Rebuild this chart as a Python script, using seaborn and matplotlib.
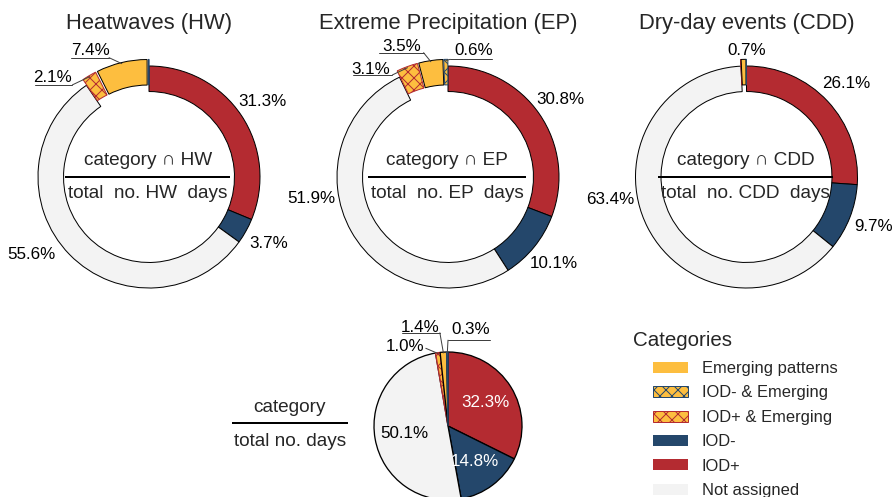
import matplotlib
matplotlib.use("Agg")
import matplotlib.pyplot as plt
from matplotlib.patches import Patch
import numpy as np
import seaborn as sns

# ---------------------------------------------------------------- data
categories = ["IOD+", "IOD-", "Not assigned",
              "IOD+ & Emerging", "Emerging patterns", "IOD- & Emerging"]
hw_pct = [31.3, 3.7, 55.6, 2.1, 7.4, 0.05]
ep_pct = [30.8, 10.1, 51.9, 3.1, 3.5, 0.6]
cdd_pct = [26.1, 9.7, 63.4, 0.05, 0.7, 0.05]
all_pct = [32.3, 14.8, 50.1, 1.0, 1.4, 0.3]

event_titles = ["Heatwaves (HW)", "Extreme Precipitation (EP)", "Dry-day events (CDD)"]
event_codes = ["HW", "EP", "CDD"]
legend_order = ["Emerging patterns", "IOD- & Emerging", "IOD+ & Emerging",
                "IOD-", "IOD+", "Not assigned"]

# ---------------------------------------------------------------- style
sns.set_theme(style="white")
plt.rcParams["font.family"] = ["Liberation Sans", "DejaVu Sans"]
plt.rcParams["hatch.linewidth"] = 1.0

YELLOW, RED, BLUE, GREY = "#FDBE3F", "#B42B31", "#24476B", "#F3F3F3"
palette = sns.color_palette([RED, BLUE, GREY, YELLOW, YELLOW, YELLOW])
fill = dict(zip(categories, palette))
edge = dict(zip(categories, ["black", "black", "black", RED, "black", BLUE]))
hatch = dict(zip(categories, [None, None, None, "xx", None, "xx"]))
emerging = {"IOD+ & Emerging", "Emerging patterns", "IOD- & Emerging"}

FS_TITLE, FS_PCT, FS_FRAC, FS_LEG = 22, 17, 19, 16.5
LEADER = "#404040"

W, H, DPI = 896, 497, 72
fig = plt.figure(figsize=(W / DPI, H / DPI), dpi=DPI)

# full-figure layer in pixel units for free-standing text
canvas = fig.add_axes([0, 0, 1, 1])
canvas.set_xlim(0, W)
canvas.set_ylim(H, 0)
canvas.axis("off")


def pie_axes(cx, cy, radius_px, half_px):
    ax = fig.add_axes([(cx - half_px) / W, (H - cy - half_px) / H,
                       2 * half_px / W, 2 * half_px / H])
    return ax, half_px / radius_px


def draw_pie(ax, lim, pct, ring_width=None, explode_amt=0.0, lw=1.0):
    wp = dict(linewidth=lw)
    if ring_width:
        wp["width"] = ring_width
    wedges, _ = ax.pie(pct, colors=[fill[c] for c in categories],
                       startangle=90, counterclock=False,
                       explode=[explode_amt if c in emerging else 0 for c in categories],
                       wedgeprops=wp)
    for w, c in zip(wedges, categories):
        w.set_edgecolor(edge[c])
        if hatch[c]:
            w.set_hatch(hatch[c])
    ax.set_xlim(-lim, lim)
    ax.set_ylim(-lim, lim)
    ax.set_aspect("equal")
    ax.axis("off")
    return wedges


def wedge_point(w, frac):
    t = np.deg2rad((w.theta1 + w.theta2) / 2)
    cx, cy = w.center
    return cx + frac * w.r * np.cos(t), cy + frac * w.r * np.sin(t)


def label_wedges(ax, wedges, pct, callouts, dist, colors=None, min_pct=0.1):
    for w, c, v in zip(wedges, categories, pct):
        if v < min_pct:
            continue
        txt = f"{v:.1f}%"
        col = colors.get(c, "black") if colors else "black"
        if c in callouts:
            spec = callouts[c]
            ax.text(*spec["text"], txt, ha="center", va="center",
                    fontsize=FS_PCT, color="black")
            if "under" in spec:
                x0, x1, y = spec["under"]
                ax.plot([x0, x1], [y, y], color=LEADER, lw=1.0, clip_on=False)
            if "tail" in spec:
                ex, ey = wedge_point(w, 0.99)
                tx, ty = spec["tail"]
                ax.plot([tx, ex], [ty, ey], color=LEADER, lw=1.0, clip_on=False)
        else:
            x, y = wedge_point(w, dist)
            ax.text(x, y, txt, ha="center", va="center", fontsize=FS_PCT, color=col)


def fraction(ax, x, y_num, y_line, y_den, num, den, pad):
    ax.text(x, y_num, num, ha="center", va="center", fontsize=FS_FRAC)
    d = ax.text(x, y_den, den, ha="center", va="center", fontsize=FS_FRAC)
    fig.canvas.draw()
    bb = d.get_window_extent().transformed(ax.transData.inverted())
    ax.plot([bb.x0 - pad, bb.x1 + pad], [y_line, y_line], color="black",
            lw=2.0, clip_on=False, solid_capstyle="butt")


# ---------------------------------------------------------------- donuts
centres = [(149, 177), (448, 177), (746.5, 177)]
R_DONUT = 111
callouts = [
    {"Not assigned": dict(text=(-1.06, -0.70)),
     "Emerging patterns": dict(text=(-0.53, 1.14), under=(-0.70, -0.36, 1.075),
                               tail=(-0.36, 1.075)),
     "IOD+ & Emerging": dict(text=(-0.87, 0.90), under=(-1.03, -0.69, 0.83),
                             tail=(-0.69, 0.83))},
    {"Not assigned": dict(text=(-1.23, -0.19)),
     "Emerging patterns": dict(text=(-0.42, 1.18), under=(-0.62, -0.22, 1.12),
                               tail=(-0.22, 1.12)),
     "IOD+ & Emerging": dict(text=(-0.70, 0.97), under=(-0.86, -0.50, 0.92),
                             tail=(-0.50, 0.92)),
     "IOD- & Emerging": dict(text=(0.23, 1.14), under=(0.02, 0.40, 1.06),
                             tail=(0.02, 1.06))},
    {"Not assigned": dict(text=(-1.23, -0.20)),
     "Emerging patterns": dict(text=(0.0, 1.14))},
]

for (cx, cy), pct, title, code, co in zip(centres, [hw_pct, ep_pct, cdd_pct],
                                          event_titles, event_codes, callouts):
    ax, lim = pie_axes(cx, cy, R_DONUT, 150)
    wedges = draw_pie(ax, lim, pct, ring_width=0.23, explode_amt=0.06)
    label_wedges(ax, wedges, pct, co, dist=1.23)
    ax.text(0, 1.38, title, ha="center", va="center", fontsize=FS_TITLE)
    fraction(ax, -0.01, 0.15, 0.0, -0.145,
             f"category \u2229 {code}", f"total  no. {code}  days", pad=0.025)

# ---------------------------------------------------------------- overall pie
ax, lim = pie_axes(448, 426, 74, 100)
wedges = draw_pie(ax, lim, all_pct, lw=1.3)
label_wedges(ax, wedges, all_pct,
             {"IOD+ & Emerging": dict(text=(-0.58, 1.07), tail=(-0.30, 1.05)),
              "Emerging patterns": dict(text=(-0.38, 1.33), under=(-0.62, -0.11, 1.26),
                                        tail=(-0.11, 1.26)),
              "IOD- & Emerging": dict(text=(0.30, 1.30), under=(0.0, 0.57, 1.16),
                                      tail=(0.0, 1.16))},
             dist=0.6, colors={"IOD+": "white", "IOD-": "white"})

canvas.text(290, 407, "category", ha="center", va="center", fontsize=FS_FRAC)
den = canvas.text(290, 442, "total no. days", ha="center", va="center", fontsize=FS_FRAC)
fig.canvas.draw()
bb = den.get_window_extent().transformed(canvas.transData.inverted())
canvas.plot([bb.x0 - 2, bb.x1 + 2], [423, 423], color="black", lw=2.0,
            solid_capstyle="butt")

# ---------------------------------------------------------------- legend
handles = [Patch(facecolor=fill[c], edgecolor=edge[c] if hatch[c] else fill[c],
                 hatch=hatch[c], linewidth=1.0 if hatch[c] else 0)
           for c in legend_order]
canvas.text(633, 340, "Categories", ha="left", va="center", fontsize=20.5)
fig.legend(handles, legend_order, loc="upper left",
           bbox_to_anchor=(653 / W, 1 - 361 / H), frameon=False,
           fontsize=FS_LEG, handlelength=2.1, handleheight=0.65,
           handletextpad=0.85, labelspacing=0.57, borderpad=0, borderaxespad=0)

fig.savefig("out.png", dpi=DPI)
